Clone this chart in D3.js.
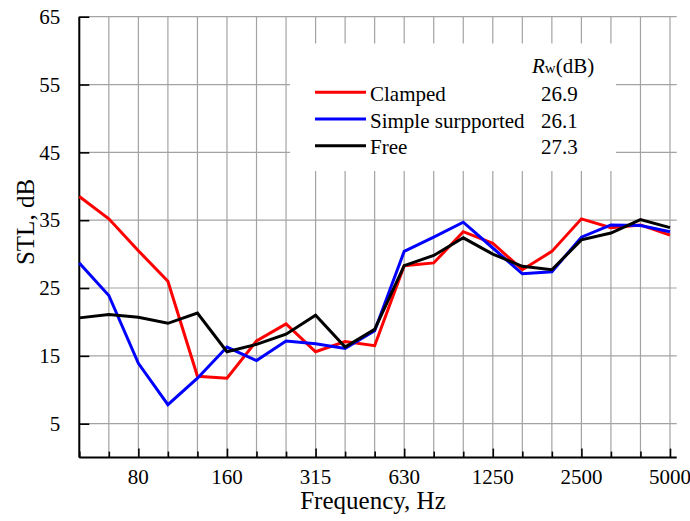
<!DOCTYPE html>
<html lang="en">
    <head>
        <meta charset="utf-8">
        <title>STL chart</title>
        <script type="text/javascript" src="https://cdn.jsdelivr.net/npm/d3@7/dist/d3.min.js"></script>
        <style>
            body { margin: 0; background: #fff; }
            text { font-family: "Liberation Serif", "Times New Roman", serif; fill: #000; }
        </style>
    </head>
    <body>
        <script type="text/javascript">
            // 1/3 octave band centres
            var freqs = [50, 63, 80, 100, 125, 160, 200, 250, 315, 400, 500, 630, 800,
                         1000, 1250, 1600, 2000, 2500, 3150, 4000, 5000];
            var tickFreqs = [80, 160, 315, 630, 1250, 2500, 5000];
            var yTicks = [5, 15, 25, 35, 45, 55, 65];

            var seriesNames = ["Clamped", "Simple surpported", "Free"];
            var seriesColors = ["#ff0000", "#0000ff", "#000000"];
            var rwValues = ["26.9", "26.1", "27.3"];

            var clamped = [38.5, 35.2, 30.5, 26.0, 12.0, 11.7, 17.2, 19.7, 15.6, 17.1, 16.5,
                           28.3, 28.7, 33.3, 31.6, 27.7, 30.4, 35.2, 33.9, 34.3, 32.8];
            var simple  = [28.7, 23.9, 13.9, 7.8, 11.7, 16.3, 14.3, 17.2, 16.8, 16.1, 18.7,
                           30.4, 32.5, 34.7, 30.9, 27.1, 27.4, 32.5, 34.3, 34.2, 33.3];
            var free    = [20.6, 21.1, 20.7, 19.8, 21.3, 15.6, 16.7, 18.2, 21.0, 16.3, 18.9,
                           28.3, 29.8, 32.4, 30.0, 28.2, 27.7, 32.1, 33.1, 35.1, 33.9];
            var series = [clamped, simple, free];

            var w = 690;
            var h = 521;

            // plot edges (note: "top" is taken by window.top)
            var pLeft = 79.3, pRight = 676.7, pTop = 16.7, pBottom = 457.6;

            // x runs on band index, axis goes a little past the last band
            var xScale = d3.scaleLinear()
                            .domain([0, 20 + 6.7 / 29.55])
                            .range([pLeft, pRight]);

            var yScale = d3.scaleLinear()
                            .domain([0, 65])
                            .range([pBottom, pTop]);

            var svg = d3.select("body")
                        .append("svg")
                        .attr("width", w)
                        .attr("height", h);

            // grid
            svg.append("g")
                .selectAll("line")
                .data(freqs)
                .enter()
                .append("line")
                .attr("x1", function(d, i){ return xScale(i); })
                .attr("x2", function(d, i){ return xScale(i); })
                .attr("y1", pTop)
                .attr("y2", pBottom)
                .attr("stroke", "#a3a3a3")
                .attr("stroke-width", 1.2);

            svg.append("g")
                .selectAll("line")
                .data(yTicks)
                .enter()
                .append("line")
                .attr("x1", pLeft)
                .attr("x2", pRight)
                .attr("y1", function(d){ return yScale(d); })
                .attr("y2", function(d){ return yScale(d); })
                .attr("stroke", "#a3a3a3")
                .attr("stroke-width", 1.2);

            // legend box hides the grid behind it
            svg.append("rect")
                .attr("x", 290)
                .attr("y", 43.5)
                .attr("width", 326)
                .attr("height", 127.5)
                .attr("fill", "#fff");

            // axes, ticks point inward
            var xAxis = d3.axisBottom(xScale)
                            .tickValues(d3.range(freqs.length))
                            .tickSize(-6)
                            .tickFormat("");
            var gx = svg.append("g")
                        .attr("transform", "translate(0," + pBottom + ")")
                        .call(xAxis);
            gx.select(".domain").attr("stroke", "#000").attr("stroke-width", 2)
                .attr("d", "M" + pLeft + ",0H" + pRight);
            gx.selectAll(".tick line")
                .attr("stroke", "#000")
                .attr("stroke-width", 1.6)
                .attr("y2", function(d){ return tickFreqs.indexOf(freqs[d]) >= 0 ? -9 : -6; });

            svg.append("g")
                .selectAll("text")
                .data(tickFreqs)
                .enter()
                .append("text")
                .attr("x", function(d){ return xScale(freqs.indexOf(d)); })
                .attr("y", 483.5)
                .attr("text-anchor", "middle")
                .attr("font-size", "21px")
                .text(function(d){ return d; });

            var yAxis = d3.axisLeft(yScale)
                            .tickValues(yTicks)
                            .tickSize(-10)
                            .tickPadding(19)
                            .tickFormat(function(d){ return d; });
            var gy = svg.append("g")
                        .attr("transform", "translate(" + pLeft + ",0)")
                        .call(yAxis);
            gy.select(".domain").attr("stroke", "#000").attr("stroke-width", 2)
                .attr("d", "M0," + pTop + "V" + pBottom);
            gy.selectAll(".tick line").attr("stroke", "#000").attr("stroke-width", 1.6);
            gy.selectAll(".tick text")
                .attr("font-size", "21px")
                .attr("font-family", "Liberation Serif, Times New Roman, serif")
                .attr("fill", "#000");

            // axis titles
            svg.append("text")
                .attr("x", 373)
                .attr("y", 509.3)
                .attr("text-anchor", "middle")
                .attr("font-size", "25px")
                .text("Frequency, Hz");

            svg.append("text")
                .attr("transform", "translate(34,222) rotate(-90)")
                .attr("text-anchor", "middle")
                .attr("font-size", "25px")
                .text("STL, dB");

            // series
            var line = d3.line()
                        .x(function(d, i){ return xScale(i); })
                        .y(function(d){ return yScale(d); });

            svg.append("g")
                .selectAll("path")
                .data(series)
                .enter()
                .append("path")
                .attr("d", line)
                .attr("fill", "none")
                .attr("stroke", function(d, i){ return seriesColors[i]; })
                .attr("stroke-width", 3)
                .attr("stroke-linejoin", "miter");

            // legend
            var header = svg.append("text")
                            .attr("x", 532)
                            .attr("y", 73.3)
                            .attr("font-size", "21px");
            header.append("tspan").attr("font-style", "italic").text("R");
            header.append("tspan").attr("font-size", "15px").text("w");
            header.append("tspan").text("(dB)");

            var rows = svg.append("g")
                        .selectAll("g")
                        .data(seriesNames)
                        .enter()
                        .append("g")
                        .attr("transform", function(d, i){ return "translate(0," + (92.3 + i * 26.7) + ")"; });

            rows.append("line")
                .attr("x1", 315)
                .attr("x2", 366)
                .attr("stroke", function(d, i){ return seriesColors[i]; })
                .attr("stroke-width", 3);

            rows.append("text")
                .attr("x", 370)
                .attr("y", 8.5)
                .attr("font-size", "21px")
                .text(function(d){ return d; });

            rows.append("text")
                .attr("x", 541)
                .attr("y", 8.5)
                .attr("font-size", "21px")
                .text(function(d, i){ return rwValues[i]; });
        </script>
    </body>
</html>
